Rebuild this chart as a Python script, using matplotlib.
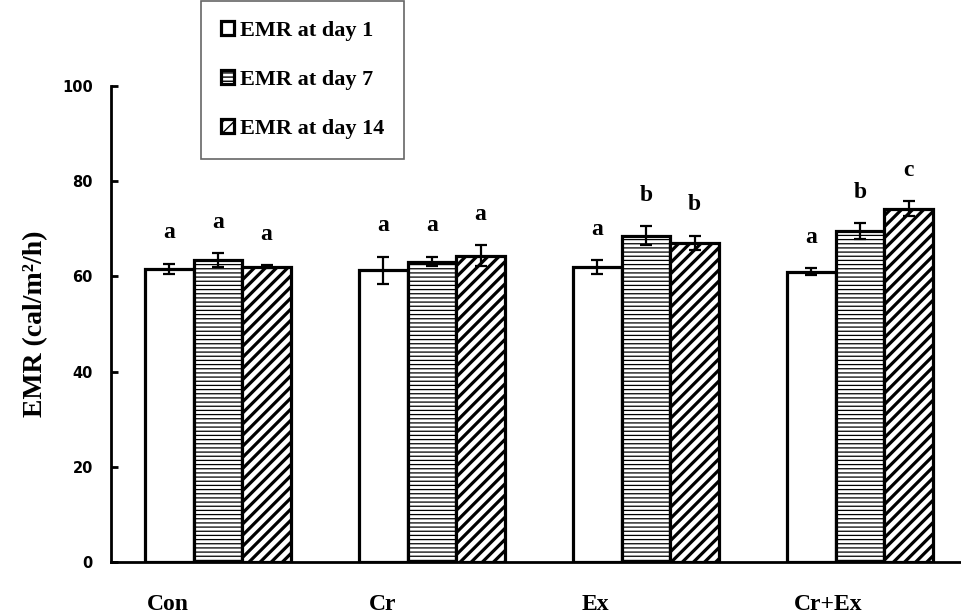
import matplotlib
matplotlib.use("Agg")
import matplotlib.pyplot as plt
import numpy as np

categories = ["Con", "Cr", "Ex", "Cr+Ex"]
series_names = ["EMR at day 1", "EMR at day 7", "EMR at day 14"]
day1 = [61.6, 61.3, 62.0, 61.0]
day7 = [63.4, 63.1, 68.5, 69.5]
day14 = [62.0, 64.3, 67.0, 74.2]
err1 = [1.1, 2.8, 1.4, 0.7]
err7 = [1.5, 1.0, 2.0, 1.7]
err14 = [0.3, 2.2, 1.5, 1.6]
letters1 = ["a", "a", "a", "a"]
letters7 = ["a", "a", "b", "b"]
letters14 = ["a", "a", "b", "c"]
yticks = [0, 20, 40, 60, 80, 100]

fig = plt.figure(figsize=(9.61, 6.15), dpi=100)
ax = fig.add_axes([111/961, 53/615, 850/961, 476/615])

x = np.arange(len(categories))
w = 0.227
vals = [day1, day7, day14]
errs = [err1, err7, err14]
lets = [letters1, letters7, letters14]
hatches = ["", "----", "///"]
hlw = [1.0, 0.9, 2.3]
handles = []
for i in range(3):
    xs = x + (i - 1) * w
    with plt.rc_context({"hatch.linewidth": hlw[i]}):
        b = ax.bar(xs, vals[i], width=w, color="white", edgecolor="black",
                   linewidth=2.3, hatch=hatches[i], zorder=2, label=series_names[i])
    handles.append(b)
    ax.errorbar(xs, vals[i], yerr=errs[i], fmt="none", ecolor="black",
                elinewidth=1.6, capsize=4, capthick=1.6, zorder=3)
    for xx, v, e, l in zip(xs, vals[i], errs[i], lets[i]):
        ax.text(xx, v + e + 6.5, l, ha="center", va="center",
                fontfamily="Liberation Serif", fontweight="bold", fontsize=17)

ax.set_xlim(-0.5, 3.472)
ax.set_ylim(0, 100)
ax.set_yticks(yticks)
ax.set_yticklabels([str(t) for t in yticks], fontfamily="DejaVu Sans",
                   fontweight="bold", fontsize=10.5)
ax.tick_params(axis="y", direction="in", length=5, width=2, pad=13)
ax.set_xticks([])
label_pos = [-0.234, 0.771, 1.762, 2.85]
for lp, c in zip(label_pos, categories):
    ax.text(lp, -0.09, c, transform=ax.get_xaxis_transform(), ha="center",
            va="center", fontfamily="Liberation Serif", fontweight="bold", fontsize=17)

for s in ["top", "right"]:
    ax.spines[s].set_visible(False)
ax.spines["left"].set_linewidth(2)
ax.spines["bottom"].set_linewidth(2)

ax.set_ylabel("EMR (cal/m\u00b2/h)", fontfamily="Liberation Serif",
              fontweight="bold", fontsize=20, labelpad=10)

leg = fig.legend(handles=handles, loc="upper left",
                 bbox_to_anchor=(201/961, 1 - 1/615),
                 prop={"family": "Liberation Serif", "weight": "bold", "size": 16},
                 frameon=True, fancybox=False, edgecolor="#404040",
                 handlelength=0.6, handleheight=0.6, handletextpad=0.25,
                 labelspacing=1.3, borderpad=0.9, borderaxespad=0)
leg.get_frame().set_linewidth(1.2)

fig.savefig("out.png", dpi=100)
